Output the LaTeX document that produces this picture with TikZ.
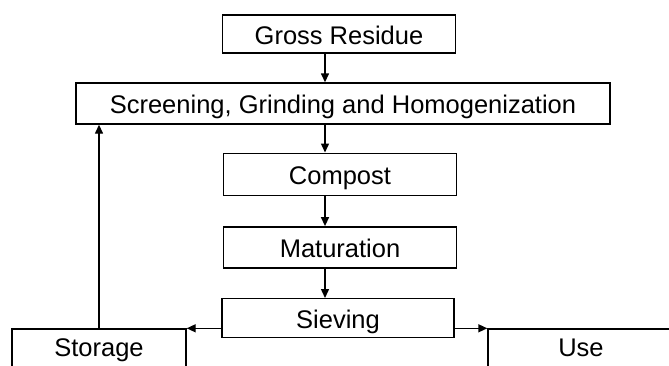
\documentclass[tikz,border=0pt]{standalone}
\usepackage{fontspec}
\setmainfont{Liberation Sans}
\usetikzlibrary{arrows.meta}

\begin{document}
\begin{tikzpicture}[x=1pt,y=-1pt,->,>={Triangle[length=9pt,width=8pt]},line width=1.4pt,
  main node/.style={draw,rectangle,minimum width=233pt,minimum height=41pt,inner sep=0pt,
    text height=20pt,text depth=0pt,font=\fontsize{25.5}{30}\selectfont},
  end node/.style={main node,minimum height=40pt,text height=14pt}]
  \useasboundingbox (0,0) rectangle (669,365);
  \clip (0,0) rectangle (669,365);

  \coordinate (axis) at (325,0);
  \node[main node,minimum height=38pt] (gross) at (339,34) {Gross Residue};
  \node[main node,minimum width=534pt] (screening) at (343,103.5) {Screening, Grinding and Homogenization};
  \node[main node,minimum height=42pt] (compost) at (340,174.2) {Compost};
  \node[main node] (maturation) at (340,247.3) {Maturation};
  \node[main node,minimum width=232pt,minimum height=39pt] (sieving) at (338,318.2) {Sieving};
  \node[end node,minimum width=174pt] (storage) at (99,349) {Storage};
  \node[end node,minimum width=186pt] (use) at (581,349) {Use};

  \path (gross.south -| axis) edge (screening.north -| axis)
        (screening.south -| axis) edge (compost.north -| axis)
        (compost.south -| axis) edge (maturation.north -| axis)
        (maturation.south -| axis) edge (sieving.north -| axis)
        (storage.north east -| sieving.west) edge (storage.north east)
        (use.north west -| sieving.east) edge (use.north west)
        (storage.north) edge (storage.north |- screening.south);
\end{tikzpicture}
\end{document}
